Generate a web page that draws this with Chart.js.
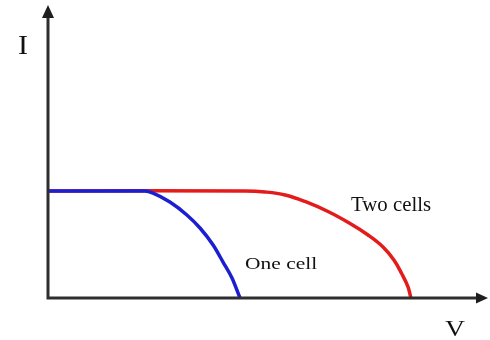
<!DOCTYPE html>
<html>
<head>
<meta charset="utf-8">
<script src="https://cdn.jsdelivr.net/npm/chart.js@4/dist/chart.umd.min.js"></script>
<style>
  html, body { margin: 0; padding: 0; background: #fff; }
  #wrap { width: 490px; height: 340px; }
</style>
</head>
<body>
<div id="wrap"><canvas id="iv"></canvas></div>
<script>
// I-V characteristics: one cell vs two cells in series (normalised current)
const oneCellV = [0, 0.303, 0.328, 0.381, 0.434, 0.475, 0.516, 0.547, 0.575, 0.600];
const oneCellI = [1, 1, 0.981, 0.897, 0.776, 0.654, 0.495, 0.336, 0.187, 0];
const twoCellV = [0, 0.616, 0.678, 0.741, 0.803, 0.875, 0.944, 1.0, 1.047, 1.081, 1.106, 1.125, 1.134];
const twoCellI = [1, 1, 0.991, 0.963, 0.902, 0.808, 0.696, 0.589, 0.477, 0.355, 0.224, 0.103, 0];

const seriesLabels = ['One cell', 'Two cells'];
const axisTitles = { x: 'V', y: 'I' };

const toPoints = (xs, ys) => xs.map((v, i) => ({ x: v, y: ys[i] }));

// axes with arrowheads and text labels
const sketchPlugin = {
  id: 'sketch',
  afterDatasetsDraw(chart) {
    const { ctx, chartArea: a, scales } = chart;
    const x0 = scales.x.getPixelForValue(0);
    const y0 = scales.y.getPixelForValue(0);
    ctx.save();
    ctx.strokeStyle = '#2e2e2e';
    ctx.fillStyle = '#1e1e1e';
    ctx.lineWidth = 3;
    ctx.beginPath();
    ctx.moveTo(x0, y0);
    ctx.lineTo(x0, a.top + 8);
    ctx.moveTo(x0 - 1.5, y0);
    ctx.lineTo(a.right - 8, y0);
    ctx.stroke();
    // arrowheads
    ctx.beginPath();
    ctx.moveTo(x0, a.top);
    ctx.lineTo(x0 - 6, a.top + 13);
    ctx.lineTo(x0 + 6, a.top + 13);
    ctx.closePath();
    ctx.fill();
    ctx.beginPath();
    ctx.moveTo(a.right, y0);
    ctx.lineTo(a.right - 12, y0 - 5.5);
    ctx.lineTo(a.right - 12, y0 + 5.5);
    ctx.closePath();
    ctx.fill();

    const drawText = (txt, px, py, size, width) => {
      ctx.font = size + 'px "Liberation Serif", "Times New Roman", serif';
      ctx.textBaseline = 'alphabetic';
      ctx.textAlign = 'left';
      const w = ctx.measureText(txt).width;
      const sx = width ? width / w : 1;
      ctx.save();
      ctx.translate(px, py);
      ctx.scale(sx, 1);
      ctx.fillText(txt, 0, 0);
      ctx.restore();
    };
    ctx.fillStyle = '#111';
    drawText(axisTitles.y, 18, 54, 27, 10);
    drawText(axisTitles.x, 445, 336, 24, 20);
    // series labels placed at data coordinates
    drawText(seriesLabels[1], scales.x.getPixelForValue(0.947), scales.y.getPixelForValue(0.813), 20, 80);
    drawText(seriesLabels[0], scales.x.getPixelForValue(0.616), scales.y.getPixelForValue(0.271), 17, 72);
    ctx.restore();
  }
};

new Chart(document.getElementById('iv'), {
  type: 'scatter',
  data: {
    datasets: [
      {
        label: seriesLabels[1],
        data: toPoints(twoCellV, twoCellI),
        showLine: true,
        borderColor: '#e31b1b',
        borderWidth: 3.5,
        pointRadius: 0,
        tension: 0.4,
        order: 2
      },
      {
        label: seriesLabels[0],
        data: toPoints(oneCellV, oneCellI),
        showLine: true,
        borderColor: '#1c1fd0',
        borderWidth: 3.5,
        pointRadius: 0,
        cubicInterpolationMode: 'monotone',
        order: 1
      }
    ]
  },
  options: {
    responsive: true,
    maintainAspectRatio: false,
    animation: false,
    layout: { padding: { left: 48, right: 2, top: 5, bottom: 42 } },
    plugins: { legend: { display: false }, tooltip: { enabled: false } },
    scales: {
      x: { type: 'linear', min: 0, max: 1.375, display: false },
      y: { type: 'linear', min: 0, max: 2.738, display: false }
    }
  },
  plugins: [sketchPlugin]
});
</script>
</body>
</html>
